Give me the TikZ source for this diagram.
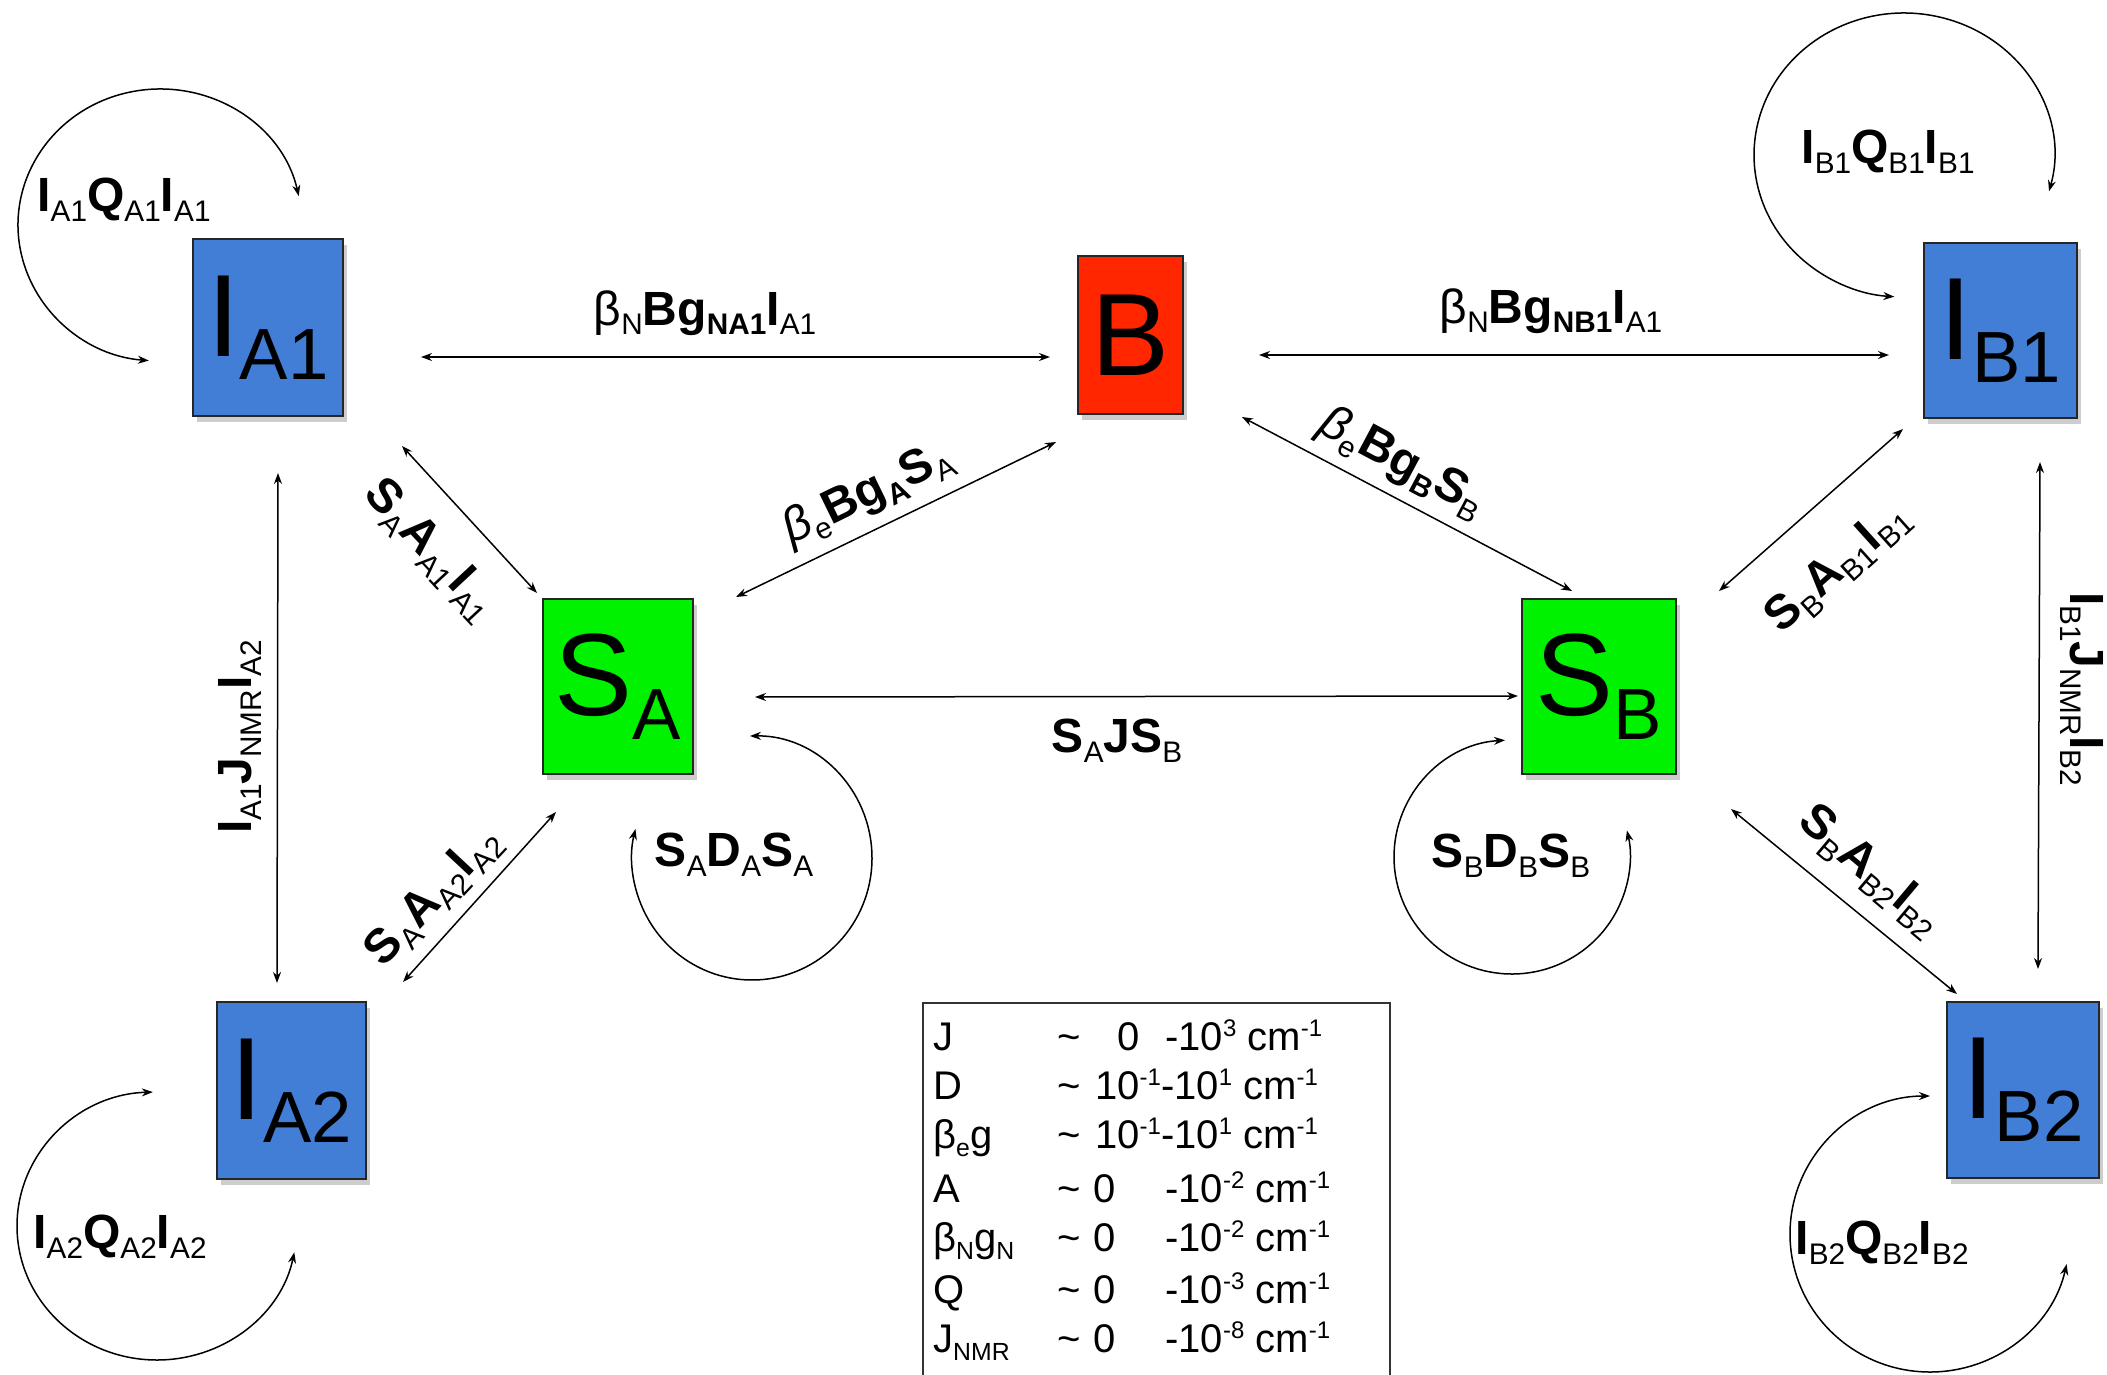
\documentclass[tikz,border=0pt]{standalone}
\usepackage{fontspec}
\setmainfont{Liberation Sans}
\usepackage{graphicx}
\usetikzlibrary{arrows.meta,shadows}
\definecolor{boxblue}{RGB}{66,125,214}
\definecolor{boxred}{RGB}{255,38,0}
\definecolor{boxgreen}{RGB}{0,242,0}
\newcommand\Sb[1]{\raisebox{-0.2em}{\scalebox{0.62}{#1}}}
\newcommand\Sp[1]{\raisebox{0.33em}{\scalebox{0.6}{#1}}}
\begin{document}
\begin{tikzpicture}[x=1pt,y=-1pt,
  statebox/.style={draw=black!85, line width=1.8pt, inner sep=0pt,
    font=\fontsize{117}{120}\selectfont,
    drop shadow={shadow xshift=4pt, shadow yshift=-6pt, opacity=0.28, fill=black!70}},
  ibox/.style={statebox, fill=boxblue},
  sbox/.style={statebox, fill=boxgreen},
  rbox/.style={statebox, fill=boxred},
  lab/.style={font=\fontsize{48}{56}\selectfont, inner sep=0pt},
  leg/.style={font=\fontsize{40}{46}\selectfont, inner sep=0pt, anchor=base west},
  arr/.style={line width=1.5pt, {Stealth[length=11pt,width=8pt]}-{Stealth[length=11pt,width=8pt]}}
]
\useasboundingbox (0,0) rectangle (2107,1374);

% boxes
\node[ibox, minimum width=150, minimum height=177] (IA1) at (268,327.5) {I\Sb{A1}};
\node[ibox, minimum width=153, minimum height=175] (IB1) at (2000.5,330.5) {I\Sb{B1}};
\node[rbox, minimum width=105, minimum height=158] (B) at (1130.5,335) {B};
\node[sbox, minimum width=150, minimum height=175] (SA) at (618,686.5) {S\Sb{A}};
\node[sbox, minimum width=154, minimum height=175] (SB) at (1599,686.5) {S\Sb{B}};
\node[ibox, minimum width=149, minimum height=177] (IA2) at (291.5,1090.5) {I\Sb{A2}};
\node[ibox, minimum width=152, minimum height=176] (IB2) at (2023,1090) {I\Sb{B2}};

% connectors
\draw[arr] ([shift={(153,29.5)}]IA1.center) -- ([shift={(-80.5,22)}]B.center);
\draw[arr] ([shift={(128.5,20)}]B.center) -- ([shift={(-111.5,24.5)}]IB1.center);
\draw[arr] ([shift={(10,145.5)}]IA1.center) -- ([shift={(-14.5,-107.5)}]IA2.center);
\draw[arr] ([shift={(134,118.5)}]IA1.center) -- ([shift={(-81,-93.5)}]SA.center);
\draw[arr] ([shift={(-74.5,107)}]B.center) -- ([shift={(118,-89.5)}]SA.center);
\draw[arr] ([shift={(111.5,82)}]B.center) -- ([shift={(-27,-95.5)}]SB.center);
\draw[arr] ([shift={(137,10.5)}]SA.center) -- ([shift={(-81,9.5)}]SB.center);
\draw[arr] ([shift={(-97.5,98.5)}]IB1.center) -- ([shift={(120,-95.5)}]SB.center);
\draw[arr] ([shift={(39.5,131.5)}]IB1.center) -- ([shift={(15,-121)}]IB2.center);
\draw[arr] ([shift={(-62,125.5)}]SA.center) -- ([shift={(111.5,-108.5)}]IA2.center);
\draw[arr] ([shift={(132,122.5)}]SB.center) -- ([shift={(-66,-96)}]IB2.center);

% self loops
\coordinate (cA1) at (160,225);
\coordinate (cB1) at (1904,155);
\coordinate (cSA) at (752,858);
\coordinate (cSB) at (1512,857);
\coordinate (cA2) at (157,1226);
\coordinate (cB2) at (1930,1234);
\draw[arr] ([shift={(-12.3:142 and 136)}]cA1) arc[start angle=-12.3, end angle=-265.5, x radius=142, y radius=136];
\draw[arr] ([shift={(14.8:150 and 142)}]cB1) arc[start angle=14.8, end angle=-266.3, x radius=150, y radius=142];
\draw[arr] ([shift={(-91:120 and 122)}]cSA) arc[start angle=-91, end angle=193.8, x radius=120, y radius=122];
\draw[arr] ([shift={(-93.4:118 and 117)}]cSB) arc[start angle=-93.4, end angle=-373.1, x radius=118, y radius=117];
\draw[arr] ([shift={(-91.7:140 and 134)}]cA2) arc[start angle=-91.7, end angle=-348.7, x radius=140, y radius=134];
\draw[arr] ([shift={(-90:140 and 138)}]cB2) arc[start angle=-90, end angle=-347.4, x radius=140, y radius=138];

% edge labels
\node[lab] (l1) at (705,313) {β\Sb{N}\textbf{Bg\Sb{NA1}I}\Sb{A1}};
\node[lab] (l2) at (1551,311) {β\Sb{N}\textbf{Bg\Sb{NB1}I}\Sb{A1}};
\node[lab, rotate=90] (l3) at (240,737) {\textbf{I}\Sb{A1}\textbf{J}\Sb{NMR}\textbf{I}\Sb{A2}};
\node[lab, rotate=-47] (l4) at (430,550) {\textbf{S}\Sb{A}\textbf{A}\Sb{A1}\textbf{I}\Sb{A1}};
\node[lab, rotate=26] (l5) at (868,494) {\textit{β}\Sb{e}\textbf{Bg\Sb{A}S}\Sb{A}};
\node[lab, rotate=-28] (l6) at (1402,463) {\textit{β}\Sb{e}\textbf{Bg\Sb{B}S}\Sb{B}};
\node[lab] (l7) at (1117,741) {\textbf{S}\Sb{A}\textbf{JS}\Sb{B}};
\node[lab, rotate=42] (l8) at (1838,568) {\textbf{S}\Sb{B}\textbf{A}\Sb{B1}\textbf{I}\Sb{B1}};
\node[lab, rotate=-90] (l9) at (2082,689) {\textbf{I}\Sb{B1}\textbf{J}\Sb{NMR}\textbf{I}\Sb{B2}};
\node[lab, rotate=47] (l10) at (434,897) {\textbf{S}\Sb{A}\textbf{A}\Sb{A2}\textbf{I}\Sb{A2}};
\node[lab, rotate=-40] (l11) at (1870,871) {\textbf{S}\Sb{B}\textbf{A}\Sb{B2}\textbf{I}\Sb{B2}};

% loop labels
\node[lab] (q1) at (124,200) {\textbf{I}\Sb{A1}\textbf{Q}\Sb{A1}\textbf{I}\Sb{A1}};
\node[lab] (q2) at (1888,152) {\textbf{I}\Sb{B1}\textbf{Q}\Sb{B1}\textbf{I}\Sb{B1}};
\node[lab] (q3) at (734,855) {\textbf{S}\Sb{A}\textbf{D}\Sb{A}\textbf{S}\Sb{A}};
\node[lab] (q4) at (1511,856) {\textbf{S}\Sb{B}\textbf{D}\Sb{B}\textbf{S}\Sb{B}};
\node[lab] (q5) at (120,1237) {\textbf{I}\Sb{A2}\textbf{Q}\Sb{A2}\textbf{I}\Sb{A2}};
\node[lab] (q6) at (1882,1243) {\textbf{I}\Sb{B2}\textbf{Q}\Sb{B2}\textbf{I}\Sb{B2}};

% legend
\draw[line width=1.4pt, black!80] (923,1380) -- (923,1003) -- (1390,1003) -- (1390,1380);
\node[leg] (r1) at (933,1050) {\makebox[124pt][l]{J}\makebox[60pt][l]{\textasciitilde}\makebox[48pt][l]{0}-10\Sp{3} cm\Sp{-1}};
\node[leg] (r2) at (933,1099) {\makebox[124pt][l]{D}\makebox[38pt][l]{\textasciitilde}10\Sp{-1}-10\Sp{1} cm\Sp{-1}};
\node[leg] (r3) at (933,1148) {\makebox[124pt][l]{β\Sb{e}g}\makebox[38pt][l]{\textasciitilde}10\Sp{-1}-10\Sp{1} cm\Sp{-1}};
\node[leg] (r4) at (933,1202) {\makebox[124pt][l]{A}\makebox[36pt][l]{\textasciitilde}\makebox[72pt][l]{0}-10\Sp{-2} cm\Sp{-1}};
\node[leg] (r5) at (933,1251) {\makebox[124pt][l]{β\Sb{N}g\Sb{N}}\makebox[36pt][l]{\textasciitilde}\makebox[72pt][l]{0}-10\Sp{-2} cm\Sp{-1}};
\node[leg] (r6) at (933,1303) {\makebox[124pt][l]{Q}\makebox[36pt][l]{\textasciitilde}\makebox[72pt][l]{0}-10\Sp{-3} cm\Sp{-1}};
\node[leg] (r7) at (933,1352) {\makebox[124pt][l]{J\Sb{NMR}}\makebox[36pt][l]{\textasciitilde}\makebox[72pt][l]{0}-10\Sp{-8} cm\Sp{-1}};
\end{tikzpicture}
\end{document}
